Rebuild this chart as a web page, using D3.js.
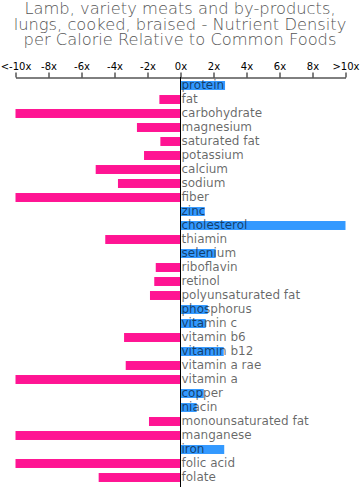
<!DOCTYPE html>
<html>
<head>
<meta charset="utf-8">
<script src="https://cdn.jsdelivr.net/npm/d3@7"></script>
<style>
body { margin: 0; background: #fff; }
svg { display: block; font-family: "DejaVu Sans", sans-serif; }
</style>
</head>
<body>
<svg id="chart" width="360" height="498"></svg>
<script>
var titleLines = ["Lamb, variety meats and by-products,",
                  "lungs, cooked, braised - Nutrient Density",
                  "per Calorie Relative to Common Foods"];

var nutrients = ["protein", "fat", "carbohydrate", "magnesium", "saturated fat",
    "potassium", "calcium", "sodium", "fiber", "zinc", "cholesterol", "thiamin",
    "selenium", "riboflavin", "retinol", "polyunsaturated fat", "phosphorus",
    "vitamin c", "vitamin b6", "vitamin b12", "vitamin a rae", "vitamin a",
    "copper", "niacin", "monounsaturated fat", "manganese", "iron", "folic acid",
    "folate"];

var values = [2.7, -1.28, -10, -2.64, -1.22,
    -2.21, -5.14, -3.79, -10, 1.47, 10, -4.56,
    2.13, -1.5, -1.59, -1.85, 1.65,
    1.53, -3.42, 2.62, -3.32, -10,
    1.41, 0.98, -1.91, -10, 2.65, -10,
    -4.96];

var tickValues = [-10, -8, -6, -4, -2, 0, 2, 4, 6, 8, 10];
var tickLabels = ["<-10x", "-8x", "-6x", "-4x", "-2x", "0x", "2x", "4x", "6x", "8x", ">10x"];

var svg = d3.select("#chart");

svg.selectAll("text.title")
    .data(titleLines)
    .enter().append("text")
    .attr("class", "title")
    .attr("x", 180)
    .attr("y", function(d, i){ return 14 + i * 15.5; })
    .attr("text-anchor", "middle")
    .attr("font-size", 16.3)
    .attr("font-weight", 200)
    .attr("fill", "#555")
    .text(function(d){ return d; });

var x = d3.scaleLinear().domain([-10, 10]).range([15.5, 345.5]);
var y = d3.scaleBand().domain(nutrients).range([78.5, 484.5])
    .paddingInner(0.36).paddingOuter(0.18);

var axis = d3.axisTop(x)
    .tickValues(tickValues)
    .tickSize(5)
    .tickSizeOuter(0)
    .tickFormat(function(d, i){ return tickLabels[i]; });

svg.append("g")
    .attr("transform", "translate(0,77.5)")
    .call(axis)
    .call(function(g){
        g.selectAll("text").attr("font-size", 10).attr("fill", "#000")
            .attr("font-family", "DejaVu Sans, sans-serif");
        g.select(".domain").attr("stroke", "#000");
    });

svg.selectAll("rect.bar")
    .data(values)
    .enter().append("rect")
    .attr("class", "bar")
    .attr("x", function(d){ return x(Math.min(0, d)); })
    .attr("y", function(d, i){ return y(nutrients[i]); })
    .attr("width", function(d){ return Math.abs(x(d) - x(0)); })
    .attr("height", y.bandwidth())
    .attr("fill", function(d){ return d >= 0 ? "#3399ff" : "#ff1493"; });

svg.append("line")
    .attr("x1", x(0)).attr("x2", x(0))
    .attr("y1", 77).attr("y2", 487)
    .attr("stroke", "#000");

svg.selectAll("text.label")
    .data(nutrients)
    .enter().append("text")
    .attr("class", "label")
    .attr("x", x(0) + 1)
    .attr("y", function(d){ return y(d) + y.bandwidth() - 0.5; })
    .attr("font-size", 12)
    .attr("fill", "#000")
    .attr("fill-opacity", 0.6)
    .text(function(d){ return d; });
</script>
</body>
</html>
